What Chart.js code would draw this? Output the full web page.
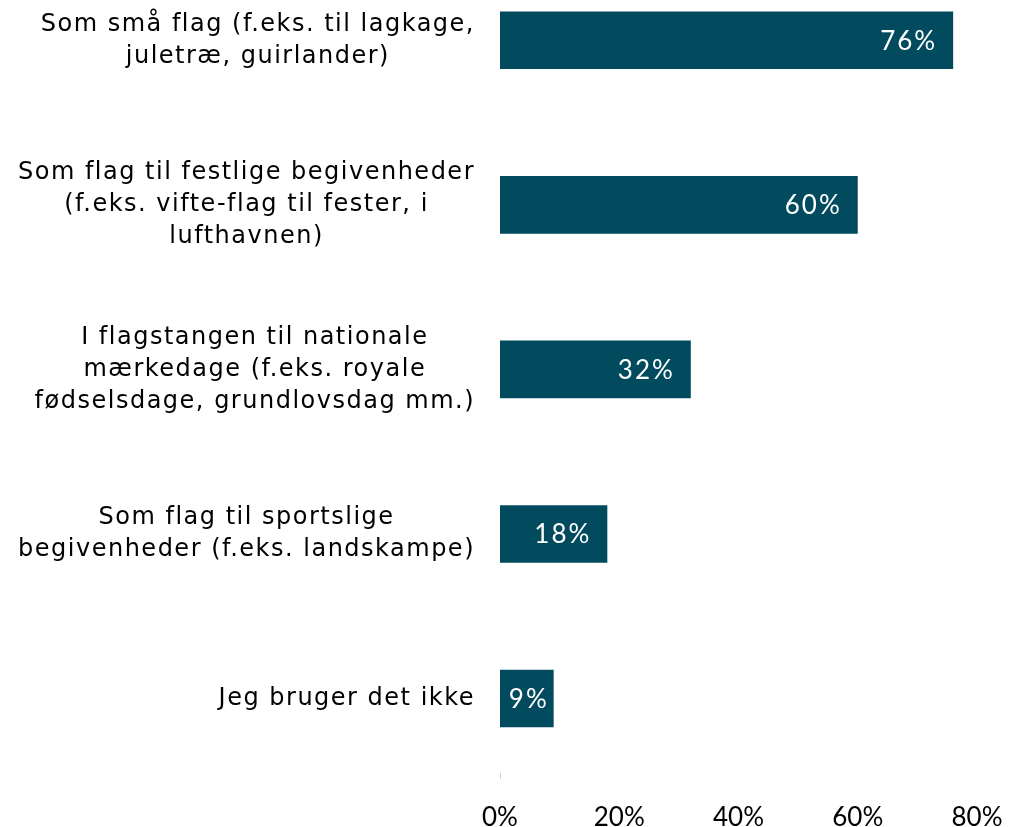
<!DOCTYPE html>
<html>
<head>
<meta charset="utf-8">
<script src="https://cdn.jsdelivr.net/npm/chart.js@4"></script>
<style>
    body { margin: 0; background: #fff; overflow: hidden; }
    #wrap { position: absolute; left: 0; top: -42px; width: 1013px; height: 896px; }
</style>
</head>
<body>
<div id="wrap"><canvas id="flagChart"></canvas></div>
<script>
const categories = [
    ["Som små flag (f.eks. til lagkage,", "juletræ, guirlander)"],
    ["Som flag til festlige begivenheder", "(f.eks. vifte-flag til fester, i", "lufthavnen)"],
    ["I flagstangen til nationale", "mærkedage (f.eks. royale", "fødselsdage, grundlovsdag mm.)"],
    ["Som flag til sportslige", "begivenheder (f.eks. landskampe)"],
    ["Jeg bruger det ikke"]
];
const shares = [76, 60, 32, 18, 9];
const xTicks = [0, 20, 40, 60, 80];

const barColor = "#024b5f";

// category labels: block right-aligned to the axis, lines centered inside the block
const categoryLabels = {
    id: "categoryLabels",
    afterDraw(chart) {
        const ctx = chart.ctx;
        const y = chart.scales.y;
        const right = chart.chartArea.left - 25;
        const lineH = 32;
        ctx.save();
        ctx.font = "24px 'DejaVu Sans', sans-serif";
        ctx.letterSpacing = "1.5px";
        ctx.fillStyle = "#000";
        ctx.textBaseline = "middle";
        ctx.textAlign = "center";
        categories.forEach((lines, i) => {
            const yc = y.getPixelForTick(i);
            const blockW = Math.max(...lines.map(l => ctx.measureText(l).width));
            const cx = right - blockW / 2;
            const y0 = yc - (lines.length - 1) * lineH / 2;
            lines.forEach((l, k) => ctx.fillText(l, cx, y0 + k * lineH));
        });
        // small tick mark at 0%
        const x0 = Math.round(chart.scales.x.getPixelForValue(0)) + 0.5;
        ctx.strokeStyle = "#d0d0d0";
        ctx.lineWidth = 1;
        ctx.beginPath();
        ctx.moveTo(x0, chart.chartArea.bottom - 8);
        ctx.lineTo(x0, chart.chartArea.bottom - 2);
        ctx.stroke();
        ctx.restore();
    }
};

// white value labels inside the bar end
const valueLabels = {
    id: "valueLabels",
    afterDatasetsDraw(chart) {
        const ctx = chart.ctx;
        const meta = chart.getDatasetMeta(0);
        ctx.save();
        ctx.font = "26px Lato, sans-serif";
        ctx.letterSpacing = "2px";
        ctx.fillStyle = "#fff";
        ctx.textBaseline = "middle";
        meta.data.forEach((bar, i) => {
            const txt = shares[i] + "%";
            const w = ctx.measureText(txt).width;
            const barW = bar.x - bar.base;
            if (barW < w + 36) {
                ctx.textAlign = "center";
                ctx.fillText(txt, (bar.x + bar.base) / 2 + 2, bar.y + 1);
            } else {
                ctx.textAlign = "right";
                ctx.fillText(txt, bar.x - 16, bar.y + 1);
            }
        });
        ctx.restore();
    }
};

new Chart(document.getElementById("flagChart").getContext("2d"), {
    type: "bar",
    data: {
        labels: categories,
        datasets: [{
            data: shares,
            backgroundColor: barColor,
            borderWidth: 0,
            barPercentage: 0.7,
            categoryPercentage: 0.5
        }]
    },
    options: {
        indexAxis: "y",
        responsive: true,
        maintainAspectRatio: false,
        animation: false,
        layout: { padding: { left: 500, right: 36, top: 0, bottom: 0 } },
        plugins: {
            legend: { display: false },
            tooltip: { enabled: false }
        },
        scales: {
            x: {
                min: 0,
                max: 80,
                afterBuildTicks: scale => { scale.ticks = xTicks.map(v => ({ value: v })); },
                afterFit: s => { s.paddingLeft = 0; s.paddingRight = 0; },
                border: { display: false },
                grid: { display: false, drawTicks: false },
                ticks: {
                    padding: 21,
                    color: "#000",
                    font: { family: "Lato, sans-serif", size: 26 },
                    callback: v => v + "%"
                }
            },
            y: {
                afterFit: s => { s.width = 0; },
                border: { display: false },
                grid: { display: false, drawTicks: false },
                ticks: { display: false }
            }
        }
    },
    plugins: [categoryLabels, valueLabels]
});
</script>
</body>
</html>
